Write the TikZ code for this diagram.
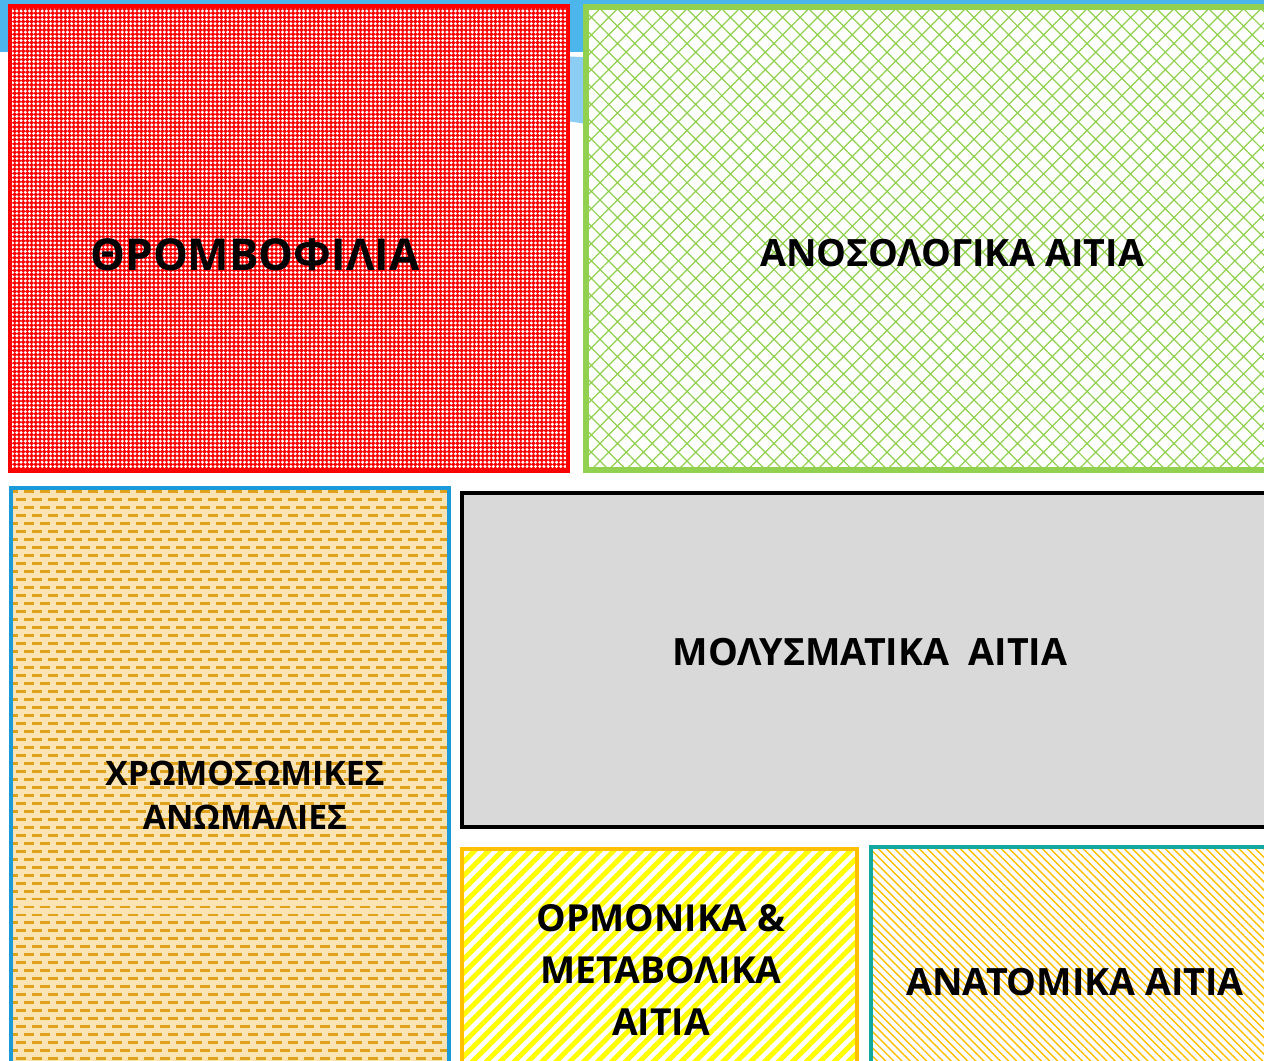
\documentclass[tikz,border=0pt]{standalone}
\usepackage{fontspec}
\setmainfont{Open Sans}
\usetikzlibrary{patterns,patterns.meta}

\definecolor{skyblue}{HTML}{4BB5EC}
\definecolor{paleblue}{HTML}{8CCDF4}
\definecolor{thrred}{HTML}{FF0000}
\definecolor{immgreen}{HTML}{92D050}
\definecolor{chrblue}{HTML}{1A9AD8}
\definecolor{chrfill}{HTML}{FBE4B4}
\definecolor{chrdash}{HTML}{E0A21A}
\definecolor{infgray}{HTML}{D9D9D9}
\definecolor{hormyellow}{HTML}{FFFF00}
\definecolor{hormorange}{HTML}{FFC000}
\definecolor{anateal}{HTML}{12A8A0}

% horizontal dashes, shifted every second row
\pgfdeclarepatternformonly{rowdashes}{\pgfqpoint{-0.1pt}{-0.1pt}}{\pgfqpoint{9.2pt}{9.2pt}}{\pgfqpoint{9.1pt}{9.1pt}}{%
  \pgfsetlinewidth{1.7pt}
  \pgfpathmoveto{\pgfqpoint{0pt}{1.2pt}}\pgfpathlineto{\pgfqpoint{5.7pt}{1.2pt}}
  \pgfpathmoveto{\pgfqpoint{4.55pt}{5.75pt}}\pgfpathlineto{\pgfqpoint{9.1pt}{5.75pt}}
  \pgfpathmoveto{\pgfqpoint{0pt}{5.75pt}}\pgfpathlineto{\pgfqpoint{1.15pt}{5.75pt}}
  \pgfusepath{stroke}}

\tikzset{
  cause/.style={font=\bfseries\fontsize{21.4}{26}\selectfont,align=center,text=black},
  boxline/.style={line width=2pt},
}

\begin{document}
\begin{tikzpicture}[x=0.02cm,y=-0.02cm]
    \useasboundingbox (0,0) rectangle (1264,1061);
    \clip (0,0) rectangle (1264,1061);
    % background ============================================
    \fill[skyblue] (0,0) rectangle (1264,52);
    \fill[paleblue] (560,56) -- (600,58) -- (600,126) -- (560,120) -- cycle;
    % top row ===============================================
    \fill[thrred] (10,6) rectangle (568,471);
    \fill[pattern={Dots[radius=0.95pt,distance=2.4pt]},pattern color=white] (10,6) rectangle (568,471);
    \draw[thrred,boxline] (10,6) rectangle (568,471);
    \fill[white] (586,7) rectangle (1270,470);
    \fill[pattern={Hatch[angle=45,distance=7pt,line width=0.7pt]},pattern color=immgreen] (586,7) rectangle (1270,470);
    \draw[immgreen,line width=3pt] (586,7) rectangle (1270,470);
    % bottom left ===========================================
    \fill[chrfill] (11,488) rectangle (449,1070);
    \fill[pattern=rowdashes,pattern color=chrdash] (11,488) rectangle (449,1070);
    \draw[chrblue,line width=2.5pt] (11,488) rectangle (449,1070);
    % bottom right ==========================================
    \filldraw[fill=infgray,draw=black,line width=2.5pt] (462,493) rectangle (1270,827);
    \fill[white] (462,849) rectangle (857,1070);
    \fill[pattern={Lines[angle=45,distance=5.6pt,line width=2.8pt]},pattern color=hormyellow] (462,849) rectangle (857,1070);
    \draw[hormorange,boxline] (462,849) rectangle (857,1070);
    \fill[white] (871,847) rectangle (1270,1070);
    \fill[pattern={Lines[angle=-45,distance=3.3pt,line width=0.8pt]},pattern color=hormorange] (871,847) rectangle (1270,1070);
    \draw[anateal,boxline] (871,847) rectangle (1270,1070);
    % labels ================================================
    \node[cause,font=\bfseries\fontsize{25}{30}\selectfont] (thromb) at (255,255) {ΘΡΟΜΒΟΦΙΛΙΑ};
    \node[cause] (immun)  at (952,253)  {ΑΝΟΣΟΛΟΓΙΚΑ ΑΙΤΙΑ};
    \node[cause,font=\bfseries\fontsize{19.2}{25}\selectfont] (chrom) at (245,795) {ΧΡΩΜΟΣΩΜΙΚΕΣ\\ΑΝΩΜΑΛΙΕΣ};
    \node[cause] (infect) at (870,652)  {ΜΟΛΥΣΜΑΤΙΚΑ\ \ ΑΙΤΙΑ};
    \node[cause,font=\bfseries\fontsize{21.2}{29.6}\selectfont] (hormon) at (661,970) {ΟΡΜΟΝΙΚΑ \&\\ΜΕΤΑΒΟΛΙΚΑ\\ΑΙΤΙΑ};
    \node[cause] (anat)   at (1075,982) {ΑΝΑΤΟΜΙΚΑ ΑΙΤΙΑ};
\end{tikzpicture}
\end{document}
